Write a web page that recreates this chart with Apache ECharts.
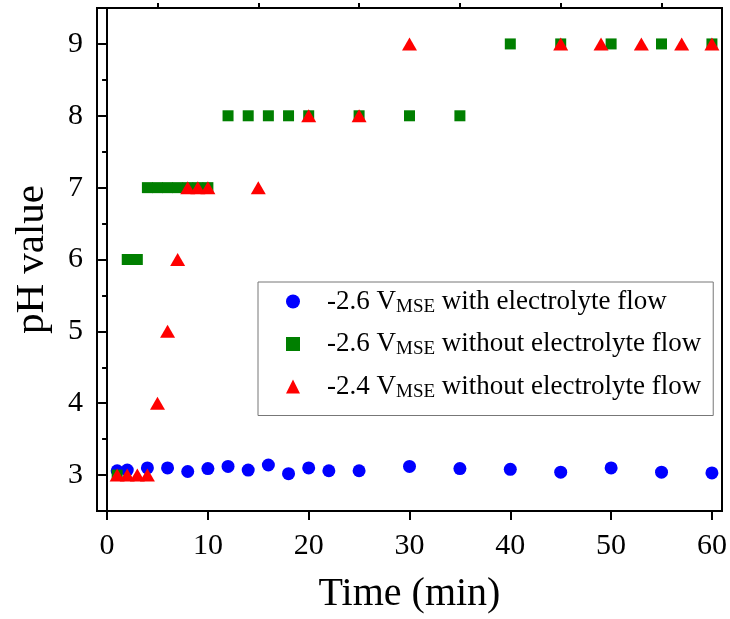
<!DOCTYPE html>
<html>
<head>
<meta charset="utf-8">
<script src="https://cdn.jsdelivr.net/npm/echarts@6/dist/echarts.min.js"></script>
<style>
  html, body { margin: 0; padding: 0; background: #fff; }
  #chart { width: 730px; height: 619px; }
</style>
</head>
<body>
<div id="chart"></div>
<script>
// -2.6 V(MSE) with electrolyte flow
const flowTime = [1, 2, 4, 6, 8, 10, 12, 14, 16, 18, 20, 22, 25, 30, 35, 40, 45, 50, 55, 60];
const flowPH = [3.06, 3.07, 3.1, 3.1, 3.05, 3.09, 3.12, 3.07, 3.14, 3.02, 3.1, 3.06, 3.06, 3.12, 3.09, 3.08, 3.04, 3.1, 3.04, 3.03];

// -2.6 V(MSE) without electrolyte flow
const noFlow26Time = [1, 2, 3, 4, 5, 6, 7, 8, 9, 10, 12, 14, 16, 18, 20, 25, 30, 35, 40, 45, 50, 55, 60];
const noFlow26PH = [3, 6, 6, 7, 7, 7, 7, 7, 7, 7, 8, 8, 8, 8, 8, 8, 8, 8, 9, 9, 9, 9, 9];

// -2.4 V(MSE) without electrolyte flow
const noFlow24Time = [1, 2, 3, 4, 5, 6, 7, 8, 9, 10, 15, 20, 25, 30, 45, 49, 53, 57, 60];
const noFlow24PH = [3, 3, 3, 3, 4, 5, 6, 7, 7, 7, 7, 8, 8, 9, 9, 9, 9, 9, 9];

const seriesNames = [
  "-2.6 V_MSE with electrolyte flow",
  "-2.6 V_MSE without electrolyte flow",
  "-2.4 V_MSE without electrolyte flow",
];

// tick labels
const xMajor = [0, 10, 20, 30, 40, 50, 60];
const xMinor = [5, 15, 25, 35, 45, 55];
const yMajor = [3, 4, 5, 6, 7, 8, 9];
const yMinor = [3.5, 4.5, 5.5, 6.5, 7.5, 8.5];

const FONT = "Liberation Serif";
const pairs = (xs, ys) => xs.map((x, i) => [x, ys[i]]);

const chart = echarts.init(document.getElementById("chart"));

const baseX = { type: "value", min: -1, max: 61, splitLine: { show: false } };
const baseY = { type: "value", min: 2.5, max: 9.5, splitLine: { show: false } };

chart.setOption({
  animation: false,
  grid: {
    left: 97, right: 8, top: 8, bottom: 106,
    show: true, borderColor: "#000", borderWidth: 2,
  },
  xAxis: [
    {
      ...baseX,
      name: "Time (min)",
      nameLocation: "middle",
      nameGap: 63,
      nameTextStyle: { fontFamily: FONT, fontSize: 40, color: "#000" },
      axisLine: { lineStyle: { color: "#000", width: 2 } },
      axisTick: { customValues: xMajor, length: 9, lineStyle: { color: "#000", width: 2 } },
      axisLabel: { customValues: xMajor, fontFamily: FONT, fontSize: 30, color: "#000", margin: 20 },
    },
    {
      ...baseX,
      axisLine: { show: false },
      axisTick: { customValues: xMinor, length: 5, lineStyle: { color: "#000", width: 2 } },
      axisLabel: { show: false },
    },
  ],
  yAxis: [
    {
      ...baseY,
      name: "pH value",
      nameLocation: "middle",
      nameGap: 44,
      nameTextStyle: { fontFamily: FONT, fontSize: 41, color: "#000" },
      axisLine: { lineStyle: { color: "#000", width: 2 } },
      axisTick: { customValues: yMajor, length: 9, lineStyle: { color: "#000", width: 2 } },
      axisLabel: { customValues: yMajor, fontFamily: FONT, fontSize: 30, color: "#000", margin: 14 },
    },
    {
      ...baseY,
      position: "left",
      axisLine: { show: false },
      axisTick: { customValues: yMinor, length: 5, lineStyle: { color: "#000", width: 2 } },
      axisLabel: { show: false },
    },
  ],
  legend: {
    orient: "vertical",
    left: 258,
    top: 282,
    padding: [6, 12, 14, 28],
    itemGap: 14,
    itemWidth: 14,
    itemHeight: 14,
    borderColor: "#777",
    borderWidth: 1,
    backgroundColor: "#fff",
    data: [
      { name: seriesNames[0], icon: "circle", itemStyle: { color: "#0000ff" } },
      { name: seriesNames[1], icon: "rect", itemStyle: { color: "#007f00" } },
      { name: seriesNames[2], icon: "triangle", itemStyle: { color: "#ff0000" } },
    ],
    formatter: (name) => {
      const [head, tail] = name.split("_MSE");
      return "{g| }{t|" + head + "}{s|MSE}{t|" + tail + "}";
    },
    textStyle: {
      rich: {
        g: { width: 22, fontSize: 10 },
        t: { fontFamily: FONT, fontSize: 27, color: "#000", lineHeight: 30 },
        s: { fontFamily: FONT, fontSize: 19, color: "#000", lineHeight: 16, verticalAlign: "bottom" },
      },
    },
  },
  series: [
    {
      name: seriesNames[0],
      type: "scatter",
      symbol: "circle",
      symbolSize: 13,
      itemStyle: { color: "#0000ff", opacity: 1 },
      data: pairs(flowTime, flowPH),
    },
    {
      name: seriesNames[1],
      type: "scatter",
      symbol: "rect",
      symbolSize: 11,
      itemStyle: { color: "#007f00", opacity: 1 },
      data: pairs(noFlow26Time, noFlow26PH),
    },
    {
      name: seriesNames[2],
      type: "scatter",
      symbol: "triangle",
      symbolSize: [15, 13],
      itemStyle: { color: "#ff0000", opacity: 1 },
      data: pairs(noFlow24Time, noFlow24PH),
    },
  ],
});
</script>
</body>
</html>
